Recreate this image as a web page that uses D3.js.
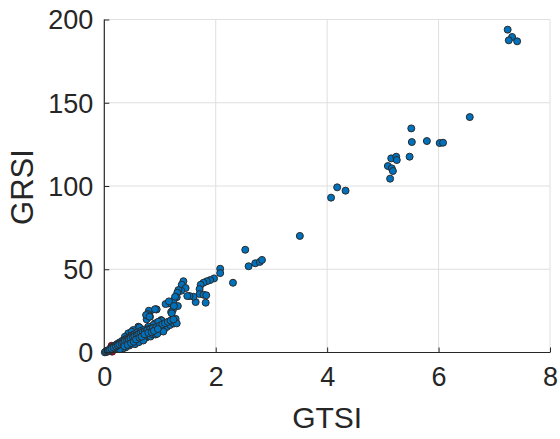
<!DOCTYPE html>
<html><head><meta charset="utf-8">
<script src="https://cdn.jsdelivr.net/npm/d3@7"></script>
<style>html,body{margin:0;padding:0;background:#fff;}svg{display:block;}</style>
</head><body>
<script>
const xTicks = [0, 2, 4, 6, 8];
const yTicks = [0, 50, 100, 150, 200];
const xLabel = "GTSI";
const yLabel = "GRSI";
// GTSI values of the blue series
const gtsi = [
7.24,7.32,7.26,7.41,6.56,5.51,5.52,5.79,6.02,6.08,5.48,5.15,5.24,5.25,5.09,5.16,5.18,5.13,4.33,4.18,4.07,3.51,2.53,2.59,2.71,2.79,2.83,2.08,2.08,2.31,
1.97,1.90,1.84,1.78,1.73,1.71,1.71,1.78,1.83,1.82,1.64,1.60,1.53,1.49,1.42,1.39,1.46,1.38,1.33,1.31,1.30,1.24,1.32,1.23,1.20,1.15,1.10,0.93,0.82,1.02,0.91,0.85,1.27,1.16,1.25,1.21,0.80,0.78,0.82,0.76,1.03,0.88,0.79,0.61,0.52,0.43,0.37,
0.94,0.75,0.97,0.49,0.63,0.81,0.91,
0.02,0.04,0.05,0.06,0.08,0.09,0.10,0.11,0.12,0.13,0.14,0.15,0.16,0.17,0.18,0.19,0.20,0.21,0.22,0.23,0.24,0.25,0.26,0.27,0.28,0.29,0.30,0.31,0.32,0.33,0.34,0.35,0.36,0.37,0.38,0.39,0.40,0.41,0.42,0.43,0.44,0.45,0.46,0.47,0.48,0.49,0.50,0.51,0.52,0.53,0.54,0.55,0.56,0.57,0.58,0.59,0.60,0.62,0.63,0.64,0.65,0.66,0.67,0.68,0.70,0.71,0.72,0.74,0.75,0.76,0.78,0.80,0.81,0.83,0.84,0.86,0.88,0.90,0.92,0.95,0.98,1.00,1.02,1.05,1.07,1.10,1.12,1.15,1.18,1.22,1.25,1.28,
0.55,0.62,0.70,0.45,0.38,0.33,0.28,1.06,0.95,1.30,
0.01,0.03,0.07,0.10,0.13,0.17,0.21,0.24,0.27,0.31,0.34,0.37,0.41,0.44,0.47,0.51,0.54,0.58,0.61,0.65,0.69,0.73,0.77,0.82,0.87,0.93,0.99,1.04,1.09,1.14,1.19,1.24,
0.36,0.42,0.48,0.53,0.57,0.63,0.67,0.72,0.79,0.85,0.89,0.96
];
// GRSI values of the blue series
const grsi = [
193.9,189.5,187.5,186.9,141.4,134.6,126.4,127.0,125.8,126.0,117.6,116.6,117.6,115.6,112.0,110.6,109.0,104.4,97.2,99.2,93.0,70.0,61.7,51.8,53.6,54.4,55.6,50.3,47.7,41.9,
44.5,43.5,42.8,41.9,40.7,38.1,35.1,34.7,34.4,29.9,30.3,33.5,33.9,33.9,42.8,40.7,38.7,37.1,37.5,35.9,33.2,31.1,27.9,25.5,24.3,29.5,29.1,25.9,24.5,19.5,17.5,15.5,33.5,30.7,27.9,23.5,25.1,23.1,21.5,19.9,19.1,16.5,15.5,15.5,13.5,11.5,9.5,
25.9,22.5,18.5,12.5,15.1,21.5,26.0,
0.3,0.8,0.4,1.2,1.5,0.9,2.1,1.4,2.6,1.8,3.1,2.2,3.6,2.7,1.9,4.2,3.0,2.4,4.8,3.5,2.8,5.5,4.1,3.2,6.1,4.6,3.4,5.2,7.0,4.0,5.8,6.6,4.5,7.8,5.3,6.2,8.3,4.9,7.1,5.8,9.0,6.5,7.7,5.4,8.6,10.2,6.9,9.4,6.0,8.1,11.0,7.4,9.9,6.6,8.8,12.1,10.5,7.6,9.6,11.5,8.3,13.0,10.2,8.0,11.7,9.2,13.8,10.6,8.9,12.4,10.0,14.2,11.3,9.6,12.9,11.0,14.5,12.0,10.8,13.6,12.4,15.0,13.2,16.2,14.0,17.0,15.3,18.2,16.5,19.0,17.4,20.2,
5.0,6.2,7.2,4.2,3.0,2.4,2.0,12.6,11.2,17.5,
0.1,0.6,1.0,1.7,2.3,3.0,3.6,4.3,4.9,5.6,6.1,6.9,7.4,8.0,8.7,9.2,9.8,10.3,11.0,11.6,12.2,12.8,13.4,13.9,14.6,15.2,16.0,16.8,17.6,18.4,19.2,19.8,
3.8,4.6,5.6,6.4,7.8,8.9,9.5,10.9,11.8,12.2,13.0,14.1
];
// second (red) series, mostly hidden near origin
const gtsiRed = [0.13, 0.14];
const grsiRed = [4.0, 0.5];

const W = 560, H = 439;
const svg = d3.select("body").append("svg").attr("width", W).attr("height", H);
const x = d3.scaleLinear().domain([0, 8]).range([104.3, 550]);
const y = d3.scaleLinear().domain([0, 200]).range([352.5, 19.5]);
const textColor = "#262626";
const font = "'Liberation Sans', Arial, Helvetica, sans-serif";

// grid
const grid = svg.append("g");
grid.selectAll(".gx").data(xTicks.slice(1)).join("line")
  .attr("x1", d => x(d)).attr("x2", d => x(d)).attr("y1", y(0)).attr("y2", y(200))
  .attr("stroke", "#dfdfdf").attr("stroke-width", 1);
grid.selectAll(".gy").data(yTicks.slice(1)).join("line")
  .attr("x1", x(0)).attr("x2", x(8)).attr("y1", d => y(d)).attr("y2", d => y(d))
  .attr("stroke", "#dfdfdf").attr("stroke-width", 1);

// points
const blue = gtsi.map((v, i) => [v, grsi[i]]);
const red = gtsiRed.map((v, i) => [v, grsiRed[i]]);
svg.append("g").selectAll("circle").data(red).join("circle")
  .attr("cx", d => x(d[0])).attr("cy", d => y(d[1])).attr("r", 3.5)
  .attr("fill", "#A2142F").attr("stroke", "#6b0d1e").attr("stroke-width", 1);
svg.append("g").selectAll("circle").data(blue).join("circle")
  .attr("cx", d => x(d[0])).attr("cy", d => y(d[1])).attr("r", 3.5)
  .attr("fill", "#0072BD").attr("stroke", "#2a2a2a").attr("stroke-width", 1);

// axes
const xAxis = d3.axisBottom(x).tickValues(xTicks).tickSize(-5).tickPadding(14).tickFormat(d3.format("d"));
const yAxis = d3.axisLeft(y).tickValues(yTicks).tickSize(-5).tickPadding(11).tickFormat(d3.format("d"));
const gx = svg.append("g").attr("transform", `translate(0,${y(0)})`).call(xAxis);
const gy = svg.append("g").attr("transform", `translate(${x(0)},0)`).call(yAxis);
[gx, gy].forEach(g => {
  g.select(".domain").attr("stroke", textColor).attr("stroke-width", 1.2);
  g.selectAll(".tick line").attr("stroke", textColor);
  g.selectAll(".tick text").attr("fill", textColor).style("font-family", font).style("font-size", "27px");
});
gx.select(".domain").attr("d", `M${x(0)},0H${x(8)}`);
gy.select(".domain").attr("d", `M0,${y(0)}V${y(200)}`);
gx.selectAll(".tick text").attr("dy", "0.71em");
gy.selectAll(".tick text").attr("dy", "0.35em");

// labels
svg.append("text").attr("x", x(4)).attr("y", 428).attr("text-anchor", "middle")
  .attr("fill", textColor).style("font-family", font).style("font-size", "30px").text(xLabel);
svg.append("text").attr("transform", `translate(33,${y(100) + 1}) rotate(-90)`).attr("text-anchor", "middle")
  .attr("fill", textColor).style("font-family", font).style("font-size", "31px").text(yLabel);
</script>
</body></html>
